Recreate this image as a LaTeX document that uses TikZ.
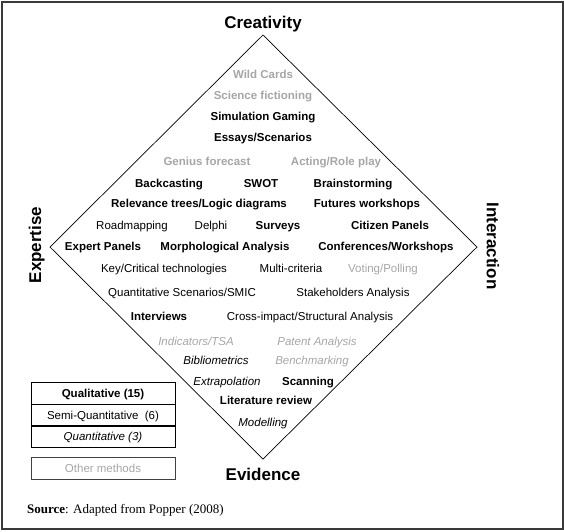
\documentclass[tikz,border=0pt]{standalone}
\usepackage{fontspec}
\setmainfont{Liberation Sans}
\newfontfamily\srcfont{Liberation Serif}
\definecolor{lightgr}{HTML}{A6A6A6}
\definecolor{framegr}{HTML}{3A3A3A}
\tikzset{
  t/.style={inner sep=0pt, text height=9.6pt, text depth=1pt, font=\fontsize{11.5}{13}\selectfont},
  tb/.style={t, font=\fontsize{11.5}{13}\selectfont\bfseries},
  ti/.style={t, font=\fontsize{11.5}{13}\selectfont\itshape},
  gr/.style={text=lightgr},
  axis/.style={inner sep=0pt, text height=13pt, text depth=0.8pt, font=\fontsize{17}{19}\selectfont\bfseries},
  legbox/.style={draw=black, line width=0.7pt, minimum width=144pt, minimum height=22pt, inner sep=0pt, text height=9.6pt, text depth=1pt, font=\fontsize{11.5}{13}\selectfont},
}
\begin{document}
\begin{tikzpicture}[x=1pt,y=-1pt]
\useasboundingbox (0,0) rectangle (564,531);
\draw[framegr, line width=2pt] (1.5,1.5) rectangle (562.5,528.5);
% diamond
\coordinate (T) at (263,35);
\coordinate (R) at (477,247);
\coordinate (B) at (263,459);
\coordinate (L) at (50,247);
\draw[line width=0.7pt] (T) -- (R) -- (B) -- (L) -- cycle;
% axis labels
\node[axis] (creat) at (263,22.5) {Creativity};
\node[axis] (evid) at (263,474.5) {Evidence};
\node[axis, rotate=90] (expert) at (35,245) {Expertise};
\node[axis, rotate=-90] (inter) at (493,246) {Interaction};
% methods
\node[tb,gr] (wild) at (263,74.5) {Wild Cards};
\node[tb,gr] (scifi) at (263,95) {Science fictioning};
\node[tb] (simgam) at (263,116) {Simulation Gaming};
\node[tb] (essays) at (263,137) {Essays/Scenarios};
\node[tb,gr] (genius) at (207,161) {Genius forecast};
\node[tb,gr] (acting) at (336,161) {Acting/Role play};
\node[tb] (backc) at (169,183) {Backcasting};
\node[tb] (swot) at (261,183) {SWOT};
\node[tb] (brain) at (353,183) {Brainstorming};
\node[tb] (relev) at (199,203) {Relevance trees/Logic diagrams};
\node[tb] (futws) at (367,203) {Futures workshops};
\node[t] (roadm) at (132,225) {Roadmapping};
\node[t] (delphi) at (211,225) {Delphi};
\node[tb] (surveys) at (278,225) {Surveys};
\node[tb] (citizen) at (390,225) {Citizen Panels};
\node[tb] (expertp) at (103,246) {Expert Panels};
\node[tb] (morph) at (225,246) {Morphological Analysis};
\node[tb] (confws) at (386,246) {Conferences/Workshops};
\node[t] (keycrit) at (164,268) {Key/Critical technologies};
\node[t] (multi) at (291,268) {Multi-criteria};
\node[t,gr] (voting) at (383,268) {Voting/Polling};
\node[t] (quantsc) at (182,292) {Quantitative Scenarios/SMIC};
\node[t] (stake) at (353,292) {Stakeholders Analysis};
\node[tb] (interv) at (159,316) {Interviews};
\node[t] (cross) at (310,316) {Cross-impact/Structural Analysis};
\node[ti,gr] (indic) at (196,341) {Indicators/TSA};
\node[ti,gr] (patent) at (317,341) {Patent Analysis};
\node[ti] (biblio) at (216,360) {Bibliometrics};
\node[ti,gr] (bench) at (312,360) {Benchmarking};
\node[ti] (extrap) at (227,381) {Extrapolation};
\node[tb] (scan) at (308,381) {Scanning};
\node[tb] (litrev) at (266,400) {Literature review};
\node[ti] (model) at (263,422) {Modelling};
% legend
\node[legbox, font=\fontsize{11.5}{13}\selectfont\bfseries] (qual) at (103,393) {Qualitative (15)};
\node[legbox] (semi) at (103,415) {Semi-Quantitative\ \ (6)};
\node[legbox, font=\fontsize{11.5}{13}\selectfont\itshape] (quant) at (103,436.5) {Quantitative (3)};
\node[legbox, draw=black!75, text=lightgr] (other) at (103,468) {Other methods};
% source
\node[inner sep=0pt, anchor=west, text height=9pt, text depth=3pt, font=\fontsize{13}{15}\srcfont] (src) at (27,510) {\textbf{Source}: Adapted from Popper (2008)};
\end{tikzpicture}
\end{document}
